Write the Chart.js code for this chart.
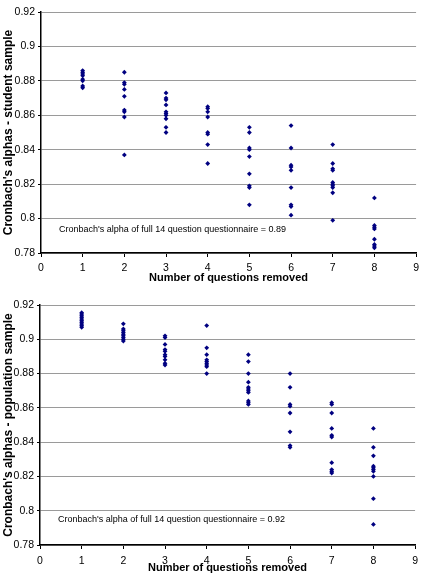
<!DOCTYPE html>
<html>
<head>
<meta charset="utf-8">
<script src="https://cdn.jsdelivr.net/npm/chart.js@4.4.1/dist/chart.umd.min.js"></script>
<style>
  html, body { margin: 0; padding: 0; background: #fff; }
  #wrap { position: relative; width: 424px; height: 583px; }
  .box { position: absolute; left: 0; width: 424px; }
</style>
</head>
<body>
<div id="wrap">
  <div class="box" style="top:0;height:292px"><canvas id="studentChart" width="424" height="292"></canvas></div>
  <div class="box" style="top:292px;height:291px"><canvas id="populationChart" width="424" height="291"></canvas></div>
</div>
<script>
// number of questions removed (x positions of each column)
const removed = [1, 2, 3, 4, 5, 6, 7, 8];

// alphas, one list per column
const studentAlphas = [
  [0.886, 0.885, 0.884, 0.883, 0.881, 0.880, 0.877, 0.876],
  [0.885, 0.879, 0.878, 0.875, 0.871, 0.863, 0.862, 0.859, 0.837],
  [0.873, 0.870, 0.869, 0.866, 0.862, 0.861, 0.860, 0.858, 0.853, 0.850],
  [0.865, 0.864, 0.862, 0.859, 0.850, 0.849, 0.843, 0.832],
  [0.853, 0.850, 0.841, 0.840, 0.836, 0.826, 0.819, 0.818, 0.808],
  [0.854, 0.841, 0.831, 0.830, 0.828, 0.818, 0.808, 0.807, 0.802],
  [0.843, 0.832, 0.829, 0.828, 0.821, 0.820, 0.819, 0.818, 0.815, 0.799],
  [0.812, 0.796, 0.795, 0.794, 0.788, 0.785, 0.784, 0.783]
];

const populationAlphas = [
  [0.9155, 0.9147, 0.9137, 0.9128, 0.9118, 0.9108, 0.9099, 0.9089, 0.9079, 0.907],
  [0.909, 0.906, 0.905, 0.904, 0.903, 0.902, 0.901, 0.900, 0.899],
  [0.902, 0.901, 0.897, 0.894, 0.893, 0.891, 0.890, 0.888, 0.886, 0.885],
  [0.908, 0.895, 0.891, 0.888, 0.887, 0.886, 0.885, 0.884, 0.880],
  [0.891, 0.887, 0.880, 0.875, 0.872, 0.871, 0.870, 0.869, 0.864, 0.863, 0.862],
  [0.880, 0.872, 0.862, 0.861, 0.857, 0.846, 0.838, 0.837],
  [0.863, 0.862, 0.857, 0.848, 0.844, 0.843, 0.828, 0.824, 0.823, 0.822],
  [0.848, 0.837, 0.832, 0.826, 0.825, 0.824, 0.823, 0.820, 0.807, 0.792]
];

// axis ranges
const xMin = 0, xMax = 9, xStep = 1;
const yMin = 0.78, yMax = 0.92, yStep = 0.02;

const FONT = '"Liberation Sans", Arial, sans-serif';

// text note drawn inside the plot
const notePlugin = {
  id: 'note',
  afterDatasetsDraw(chart, args, opts) {
    const { ctx, scales } = chart;
    ctx.save();
    ctx.font = '9px ' + FONT;
    ctx.fillStyle = '#000';
    ctx.textBaseline = 'middle';
    ctx.fillText(opts.text, scales.x.getPixelForValue(opts.x), scales.y.getPixelForValue(opts.y));
    ctx.restore();
  }
};

function toPoints(alphas) {
  return removed.flatMap((q, i) => alphas[i].map(a => ({ x: q, y: a })));
}

function makeChart(id, alphas, yTitle, note, layout) {
  const ctx = document.getElementById(id).getContext('2d');
  return new Chart(ctx, {
    type: 'scatter',
    data: {
      datasets: [{
        data: toPoints(alphas),
        pointStyle: 'rectRot',
        radius: 2.4,
        hoverRadius: 2.4,
        backgroundColor: '#000080',
        borderColor: '#000080',
        borderWidth: 0
      }]
    },
    options: {
      responsive: false,
      animation: false,
      layout: { padding: layout.padding },
      scales: {
        x: {
          type: 'linear',
          min: xMin,
          max: xMax,
          ticks: { stepSize: xStep, color: '#000', padding: layout.xTickPad, font: { family: FONT, size: 10.5 } },
          grid: { drawOnChartArea: false, color: '#000', tickColor: '#000', tickLength: 4 },
          border: { color: '#000', width: 1.5 },
          title: {
            display: true,
            text: 'Number of questions removed',
            color: '#000',
            font: { family: FONT, size: 11, weight: 'bold' },
            padding: { top: 0, bottom: layout.xTitlePad }
          },
          afterFit(scale) { scale.height = layout.xAxisH; }
        },
        y: {
          min: yMin,
          max: yMax,
          ticks: {
            stepSize: yStep,
            color: '#000',
            padding: 3,
            font: { family: FONT, size: 10.5 },
            callback: v => String(Math.round(v * 100) / 100)
          },
          grid: { color: '#9a9a9a', tickColor: '#000', tickLength: 3, lineWidth: 1 },
          border: { color: '#000', width: 1.5 },
          title: {
            display: true,
            text: yTitle,
            color: '#000',
            font: { family: FONT, size: 12, weight: 'bold' },
            padding: { top: 1, bottom: 0 }
          },
          afterFit(scale) { scale.width = layout.yAxisW; }
        }
      },
      plugins: {
        legend: { display: false },
        tooltip: { enabled: false },
        note: note
      }
    },
    plugins: [notePlugin]
  });
}

makeChart('studentChart', studentAlphas, "Cronbach's alphas - student sample",
  { text: "Cronbach's alpha of full 14 question questionnaire = 0.89", x: 0.43, y: 0.7939 },
  { padding: { top: 12, right: 4, left: 0, bottom: 0 }, xAxisH: 39, yAxisW: 41, xTitlePad: 7, xTickPad: 5 });

makeChart('populationChart', populationAlphas, "Cronbach's alphas - population sample",
  { text: "Cronbach's alpha of full 14 question questionnaire = 0.92", x: 0.43, y: 0.7947 },
  { padding: { top: 13, right: 8, left: 0, bottom: 0 }, xAxisH: 38, yAxisW: 40, xTitlePad: 8, xTickPad: 6 });
</script>
</body>
</html>
